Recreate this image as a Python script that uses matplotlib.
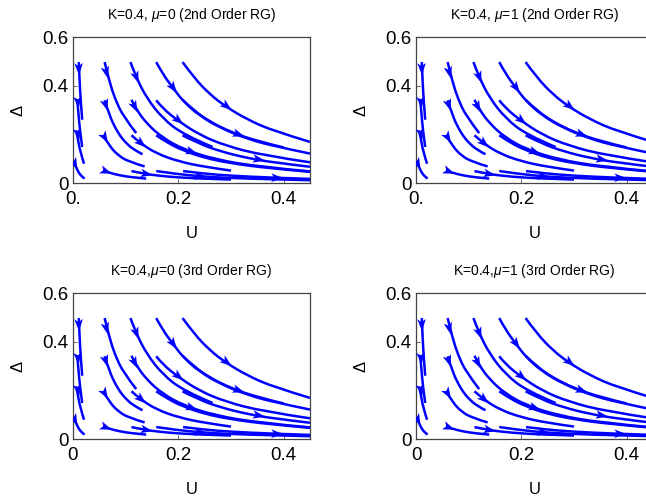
import matplotlib
matplotlib.use('Agg')
import numpy as np
import matplotlib.pyplot as plt
from matplotlib.path import Path
from matplotlib.patches import PathPatch

plt.rcParams['font.family'] = ['Liberation Sans', 'DejaVu Sans']
plt.rcParams['mathtext.fontset'] = 'custom'
plt.rcParams['mathtext.rm'] = 'Liberation Sans'
plt.rcParams['mathtext.it'] = 'Liberation Sans:italic'

titles = ['K=0.4, $\\mu$=0 (2nd Order RG)', 'K=0.4, $\\mu$=1 (2nd Order RG)',
          'K=0.4,$\\mu$=0 (3rd Order RG)', 'K=0.4,$\\mu$=1 (3rd Order RG)']
x_ticks = [0, 0.2, 0.4]
x_labels_top = ['0.', '0.2', '0.4']
x_labels_bottom = ['0', '0.2', '0.4']
y_ticks = [0, 0.4, 0.6]
y_labels = ['0', '0.4', '0.6']

# flow lines in the (U, Delta) plane, one list per line
line_u = [
    [0.011, 0.0125, 0.0145, 0.0175],
    [0.060, 0.070, 0.080, 0.095, 0.120],
    [0.109, 0.12, 0.14, 0.17, 0.21, 0.265],
    [0.158, 0.17, 0.19, 0.21, 0.24, 0.28, 0.33, 0.38, 0.45],
    [0.208, 0.23, 0.26, 0.29, 0.33, 0.38, 0.45],
    [0.008, 0.0105, 0.0135, 0.0175],
    [0.060, 0.070, 0.080, 0.090, 0.100, 0.115, 0.132],
    [0.111, 0.12, 0.14, 0.17, 0.21, 0.27, 0.35, 0.45],
    [0.158, 0.17, 0.20, 0.24, 0.29, 0.36, 0.45],
    [0.208, 0.23, 0.26, 0.30, 0.35, 0.40],
    [0.006, 0.009, 0.0135, 0.021],
    [0.057, 0.07, 0.085, 0.105, 0.136],
    [0.111, 0.13, 0.16, 0.20, 0.25, 0.30],
    [0.158, 0.18, 0.21, 0.25, 0.30, 0.37, 0.45],
    [0.208, 0.24, 0.28, 0.33, 0.38, 0.45],
    [0.0, 0.004, 0.010, 0.016, 0.022],
    [0.057, 0.07, 0.09, 0.11, 0.139],
    [0.111, 0.14, 0.18, 0.23, 0.30],
    [0.158, 0.20, 0.25, 0.32, 0.45],
    [0.209, 0.25, 0.30, 0.37, 0.45],
]
line_d = [
    [0.497, 0.42, 0.34, 0.26],
    [0.497, 0.41, 0.345, 0.275, 0.205],
    [0.497, 0.434, 0.349, 0.266, 0.198, 0.148],
    [0.497, 0.449, 0.39, 0.334, 0.277, 0.226, 0.182, 0.152, 0.121],
    [0.497, 0.432, 0.364, 0.314, 0.262, 0.214, 0.169],
    [0.345, 0.28, 0.21, 0.148],
    [0.340, 0.274, 0.2275, 0.192, 0.166, 0.137, 0.118],
    [0.342, 0.303, 0.244, 0.186, 0.138, 0.097, 0.0676, 0.0476],
    [0.340, 0.307, 0.255, 0.198, 0.153, 0.114, 0.085],
    [0.342, 0.297, 0.252, 0.209, 0.172, 0.146],
    [0.216, 0.185, 0.13, 0.079],
    [0.196, 0.150, 0.115, 0.088, 0.068],
    [0.196, 0.160, 0.120, 0.089, 0.066, 0.051],
    [0.196, 0.164, 0.133, 0.103, 0.081, 0.061, 0.046],
    [0.196, 0.161, 0.130, 0.103, 0.0845, 0.0667],
    [0.093, 0.075, 0.045, 0.028, 0.018],
    [0.052, 0.041, 0.031, 0.024, 0.018],
    [0.049, 0.036, 0.026, 0.019, 0.014],
    [0.049, 0.036, 0.026, 0.018, 0.0115],
    [0.049, 0.038, 0.030, 0.0225, 0.0168],
]
# arrowhead centres, one per line
arrow_u = [0.011, 0.063, 0.120, 0.190, 0.2915,
           0.0095, 0.062, 0.117, 0.200, 0.314,
           0.0095, 0.060, 0.129, 0.225, 0.352,
           0.003, 0.062, 0.139, 0.241, 0.387]
arrow_d = [0.47, 0.456, 0.436, 0.392, 0.316,
           0.333, 0.322, 0.314, 0.258, 0.2,
           0.203, 0.188, 0.164, 0.128, 0.097,
           0.079, 0.048, 0.037, 0.028, 0.021]

BLUE = '#0000ff'


def smooth_path(us, ds):
    pts = list(zip(us, ds))
    verts = [pts[0]]
    codes = [Path.MOVETO]
    if len(pts) == 2:
        verts.append(pts[1])
        codes.append(Path.LINETO)
    for i in range(1, len(pts) - 1):
        if i == len(pts) - 2:
            end = pts[i + 1]
        else:
            end = ((pts[i][0] + pts[i + 1][0]) / 2, (pts[i][1] + pts[i + 1][1]) / 2)
        verts += [pts[i], end]
        codes += [Path.CURVE3, Path.CURVE3]
    return Path(verts, codes)


def arrow_head(ax, us, ds, au, ad):
    tr = ax.transData
    pix = tr.transform(np.column_stack([us, ds]))
    c = tr.transform((au, ad))
    # direction of the nearest segment
    mids = (pix[:-1] + pix[1:]) / 2
    k = np.argmin(np.hypot(*(mids - c).T))
    v = pix[k + 1] - pix[k]
    v = v / np.hypot(*v)
    n = np.array([-v[1], v[0]])
    shape = [(6.5, 0), (-5.5, 4.3), (-2.5, 0), (-5.5, -4.3)]
    poly = np.array([c + a * v + b * n for a, b in shape])
    poly = tr.inverted().transform(poly)
    ax.fill(poly[:, 0], poly[:, 1], color=BLUE, lw=0, zorder=3)


fig = plt.figure(figsize=(6.46, 4.98), dpi=100)
W, H = 646, 498
boxes = [(73, 37), (416, 37), (73, 293), (416, 293)]

for i, (left, top) in enumerate(boxes):
    ax = fig.add_axes([left / W, 1 - (top + 146) / H, 237 / W, 146 / H])
    ax.set_xlim(0, 0.45)
    ax.set_ylim(0, 0.6)
    ax.set_xticks(x_ticks, x_labels_top if i < 2 else x_labels_bottom)
    ax.set_yticks(y_ticks, y_labels)
    ax.tick_params(direction='in', length=3, width=0.6, color='#555555',
                   labelsize=13.5)
    ax.tick_params(axis='x', pad=6)
    ax.tick_params(axis='y', pad=3)
    for s in ax.spines.values():
        s.set_color('#444444')
        s.set_linewidth(0.9)

    for us, ds in zip(line_u, line_d):
        ax.add_patch(PathPatch(smooth_path(us, ds), fill=False, edgecolor=BLUE,
                               lw=1.8, capstyle='butt', zorder=2))
    for us, ds, au, ad in zip(line_u, line_d, arrow_u, arrow_d):
        arrow_head(ax, us, ds, au, ad)

    cx = left + 237 / 2
    fig.text(cx / W, 1 - (top - 22) / H, titles[i], ha='center', va='center', fontsize=10)
    fig.text(cx / W, 1 - (top + 196) / H, 'U', ha='center', va='center', fontsize=12)
    fig.text((left - 55) / W, 1 - (top + 73) / H, '\u0394', ha='center', va='center',
             fontsize=12, rotation=90)

fig.savefig('out.png', dpi=100)
